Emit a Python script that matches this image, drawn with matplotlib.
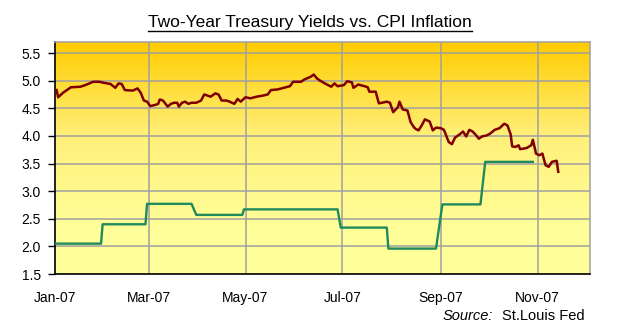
"""
Two-year treasury yields vs CPI inflation, 2007.
"""
import numpy as np
import pandas as pd
import matplotlib
matplotlib.use('Agg')
import matplotlib.pyplot as plt
import matplotlib.dates as mdates
from matplotlib.colors import LinearSegmentedColormap
from matplotlib.lines import Line2D

plt.rcParams['font.family'] = ['Liberation Sans', 'DejaVu Sans']

# 2-year treasury yield (%)
yield_dates = ['01-02', '01-03', '01-06', '01-11', '01-17', '01-21', '01-25', '01-29',
               '02-01', '02-05', '02-08', '02-10', '02-12', '02-14', '02-19', '02-22',
               '02-24', '02-26', '02-28', '03-02', '03-05', '03-07', '03-08', '03-10',
               '03-13', '03-15', '03-17', '03-19', '03-20', '03-22', '03-24', '03-26',
               '03-28', '03-31', '04-03', '04-05', '04-07', '04-09', '04-12', '04-14',
               '04-16', '04-19', '04-21', '04-24', '04-26', '04-28', '05-01', '05-04',
               '05-08', '05-12', '05-15', '05-17', '05-21', '05-25', '05-29', '05-31',
               '06-05', '06-07', '06-11', '06-13', '06-15', '06-17', '06-20', '06-24',
               '06-26', '06-28', '07-02', '07-04', '07-07', '07-08', '07-11', '07-15',
               '07-17', '07-18', '07-20', '07-22', '07-24', '07-26', '07-29', '07-31',
               '08-02', '08-05', '08-06', '08-08', '08-11', '08-13', '08-15', '08-16',
               '08-18', '08-20', '08-22', '08-25', '08-27', '08-29', '09-01', '09-03',
               '09-06', '09-08', '09-10', '09-13', '09-15', '09-17', '09-19', '09-21',
               '09-23', '09-25', '09-27', '09-30', '10-02', '10-05', '10-08', '10-11',
               '10-13', '10-15', '10-16', '10-18', '10-20', '10-21', '10-25', '10-28',
               '10-29', '10-31', '11-02', '11-04', '11-06', '11-08', '11-10', '11-13',
               '11-14']
yield_values = [4.83, 4.70, 4.78, 4.88, 4.89, 4.93, 4.98, 4.98,
                4.96, 4.94, 4.87, 4.95, 4.94, 4.83, 4.82, 4.86,
                4.78, 4.64, 4.62, 4.54, 4.56, 4.58, 4.66, 4.64,
                4.53, 4.58, 4.60, 4.60, 4.53, 4.60, 4.62, 4.58,
                4.60, 4.60, 4.64, 4.75, 4.73, 4.71, 4.77, 4.75,
                4.64, 4.64, 4.62, 4.58, 4.67, 4.62, 4.70, 4.68,
                4.71, 4.73, 4.75, 4.83, 4.84, 4.87, 4.90, 4.98,
                4.98, 5.02, 5.07, 5.11, 5.04, 5.00, 4.95, 4.89,
                4.95, 4.90, 4.92, 4.99, 4.97, 4.87, 4.93, 4.90,
                4.88, 4.80, 4.80, 4.80, 4.59, 4.60, 4.62, 4.60,
                4.43, 4.52, 4.62, 4.48, 4.46, 4.25, 4.16, 4.13,
                4.10, 4.19, 4.30, 4.26, 4.10, 4.15, 4.14, 4.11,
                3.89, 3.85, 3.97, 4.03, 4.08, 3.99, 4.11, 4.08,
                4.02, 3.95, 3.99, 4.01, 4.04, 4.11, 4.14, 4.22,
                4.19, 4.03, 3.81, 3.80, 3.83, 3.76, 3.78, 3.83,
                3.93, 3.68, 3.65, 3.68, 3.47, 3.44, 3.53, 3.55,
                3.35]

# CPI inflation (% yoy), monthly steps
cpi_dates = ['01-01', '01-30', '01-31', '02-27', '02-28', '03-28', '03-31', '04-29',
             '04-30', '06-28', '06-30', '07-29', '07-30', '08-29', '09-02', '09-26',
             '09-29', '10-29']
cpi_values = [2.05, 2.05, 2.40, 2.40, 2.77, 2.77, 2.57, 2.57,
              2.67, 2.67, 2.34, 2.34, 1.96, 1.96, 2.76, 2.76,
              3.53, 3.53]

tick_dates = ['01-01', '03-01', '05-01', '07-01', '09-01', '11-01']
tick_labels = ['Jan-07', 'Mar-07', 'May-07', 'Jul-07', 'Sep-07', 'Nov-07']
y_ticks = [1.5, 2.0, 2.5, 3.0, 3.5, 4.0, 4.5, 5.0, 5.5]

yd = pd.to_datetime(['2007-' + d for d in yield_dates])
cd = pd.to_datetime(['2007-' + d for d in cpi_dates])
td = pd.to_datetime(['2007-' + d for d in tick_dates])

fig = plt.figure(figsize=(6.2, 3.36), dpi=100)
ax = fig.add_axes([55/620, 62/336, 535/620, 232/336])

# background gradient: orange at top, pale yellow lower down
cmap = LinearSegmentedColormap.from_list('bg', ['#FFFF99', '#FFF07A', '#FFCC00'])
n = 200
frac = np.linspace(0, 1, n)
g = np.clip((frac - 0.19) / 0.81, 0, 1)
ax.imshow(g[:, None], extent=[0, 1, 0, 1], transform=ax.transAxes, origin='lower',
          aspect='auto', cmap=cmap, vmin=0, vmax=1, zorder=0)

for t in td[1:]:
    ax.axvline(t, color='#A0A0A0', lw=1.1, zorder=1)
for y in y_ticks[1:]:
    ax.axhline(y, color='#A0A0A0', lw=1.1, zorder=1)

ax.plot(cd, cpi_values, color='#1f8a5c', lw=1.7, zorder=3)
ax.plot(yd, yield_values, color='#800000', lw=1.8, zorder=3)

ax.set_xlim(pd.Timestamp('2007-01-01'), pd.Timestamp('2007-12-04'))
ax.set_ylim(1.5, 5.7)

ax.set_yticks(y_ticks)
ax.set_yticklabels(['%.1f' % v for v in y_ticks])
ax.set_xticks(td)
ax.set_xticklabels(tick_labels)
ax.tick_params(axis='y', length=5, width=1, pad=5, labelsize=10, colors='black')
ax.tick_params(axis='x', length=0, pad=12, labelsize=10)

for s in ['top', 'right']:
    ax.spines[s].set_color('#A0A0A0')
    ax.spines[s].set_linewidth(1.1)
for s in ['left', 'bottom']:
    ax.spines[s].set_color('black')
    ax.spines[s].set_linewidth(1.2)

title = fig.text(0.5, 1 - 22/336, 'Two-Year Treasury Yields vs. CPI Inflation',
                 ha='center', va='center', fontsize=12.5, color='black')
fig.canvas.draw()
bb = title.get_window_extent(fig.canvas.get_renderer())
fig.add_artist(Line2D([bb.x0 / 620, bb.x1 / 620], [1 - 30.5/336, 1 - 30.5/336],
                      transform=fig.transFigure, color='black', lw=1.0))

fig.text(493/620, 1 - 316/336, 'Source:', ha='right', va='center', fontsize=10.5,
         style='italic')
fig.text(502/620, 1 - 316/336, 'St.Louis Fed', ha='left', va='center', fontsize=10.5)

fig.savefig('out.png', dpi=100)
